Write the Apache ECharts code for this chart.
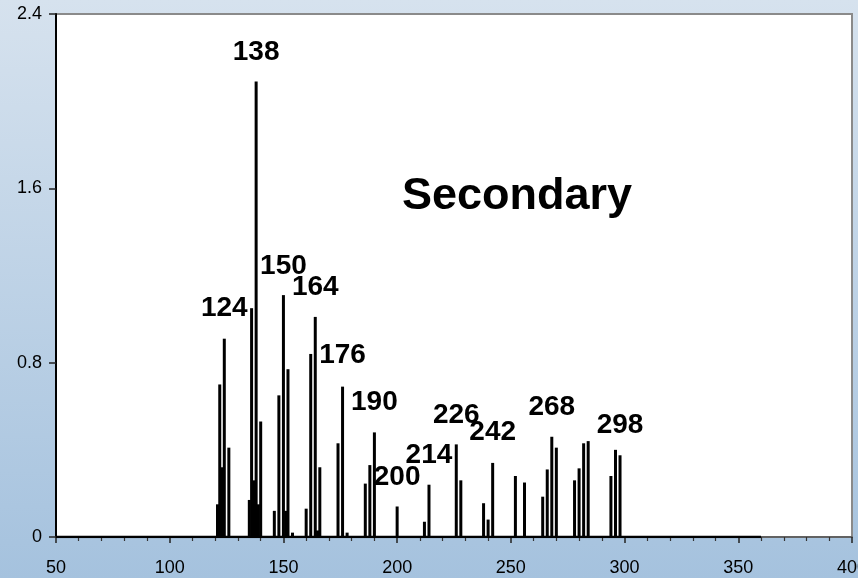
<!DOCTYPE html>
<html>
<head>
<meta charset="utf-8">
<script src="https://cdn.jsdelivr.net/npm/echarts@6/dist/echarts.min.js"></script>
<style>
  html, body { margin: 0; padding: 0; }
  #chart { width: 858px; height: 578px; }
</style>
</head>
<body>
<div id="chart"></div>
<script>
// Fragment masses (m/z) and their intensities
const masses = [121, 122, 123, 124, 126, 135, 136, 137, 138, 139, 140, 146, 148, 150, 151, 152, 154,
  160, 162, 164, 165, 166, 174, 176, 178, 186, 188, 190, 200, 212, 214, 226, 228, 238, 240, 242,
  252, 256, 264, 266, 268, 270, 278, 280, 282, 284, 294, 296, 298];
const intensities = [0.15, 0.70, 0.32, 0.91, 0.41, 0.17, 1.05, 0.26, 2.09, 0.15, 0.53, 0.12, 0.65, 1.11, 0.12, 0.77, 0.02,
  0.13, 0.84, 1.01, 0.03, 0.32, 0.43, 0.69, 0.02, 0.245, 0.33, 0.48, 0.14, 0.07, 0.24, 0.425, 0.26, 0.155, 0.08, 0.34,
  0.28, 0.25, 0.185, 0.31, 0.46, 0.41, 0.26, 0.315, 0.43, 0.44, 0.28, 0.40, 0.375];

// Scan range of the spectrum (drawn as the zero baseline)
const scanRange = [50, 360];

// Annotated peaks and the height at which each label sits
const peakLabels = [124, 138, 150, 164, 176, 190, 200, 214, 226, 242, 268, 298];
const peakLabelHeights = [1.051, 2.226, 1.244, 1.147, 0.835, 0.62, 0.275, 0.376, 0.56, 0.482, 0.597, 0.514];

// Axis ticks
const xTicks = [50, 100, 150, 200, 250, 300, 350, 400];
const yTicks = [0, 0.8, 1.6, 2.4];

const panelTitle = 'Secondary';

const chart = echarts.init(document.getElementById('chart'), null, { renderer: 'canvas' });
const FONT = 'Arial, "Liberation Sans", sans-serif';

const option = {
  animation: false,
  backgroundColor: {
    type: 'linear', x: 0, y: 0, x2: 0, y2: 1,
    colorStops: [
      { offset: 0, color: '#d6e2ee' },
      { offset: 1, color: '#a5c2de' }
    ]
  },
  grid: {
    left: 56, right: 6, top: 14, bottom: 41,
    outerBoundsMode: 'none',
    containLabel: false,
    show: true, backgroundColor: '#ffffff', borderColor: '#8a8a8a', borderWidth: 2
  },
  xAxis: {
    type: 'value',
    min: xTicks[0], max: xTicks[xTicks.length - 1], interval: xTicks[1] - xTicks[0],
    axisLine: { show: true, onZero: false, lineStyle: { color: '#555', width: 1.5 } },
    axisTick: { show: true, length: 6, lineStyle: { color: '#222', width: 1.5 } },
    minorTick: { show: true, splitNumber: 5, length: 4, lineStyle: { color: '#333', width: 1.2 } },
    splitLine: { show: false },
    axisLabel: { color: '#000', fontSize: 18, fontFamily: FONT, margin: 22, showMaxLabel: true, hideOverlap: false }
  },
  yAxis: {
    type: 'value',
    min: yTicks[0], max: yTicks[yTicks.length - 1], interval: yTicks[1] - yTicks[0],
    axisLine: { show: true, lineStyle: { color: '#000', width: 2 } },
    axisTick: { show: true, length: 7, lineStyle: { color: '#222', width: 1.5 } },
    splitLine: { show: false },
    axisLabel: {
      color: '#000', fontSize: 18, fontFamily: FONT, margin: 14,
      formatter: v => (v === 0 ? '0' : v.toFixed(1))
    }
  },
  series: [
    {
      type: 'line',
      data: scanRange.map(m => [m, 0]),
      symbol: 'none',
      lineStyle: { color: '#000', width: 2.5 },
      z: 3
    },
    {
      type: 'bar',
      data: masses.map((m, i) => [m, intensities[i]]),
      barWidth: 3,
      itemStyle: { color: '#000' },
      z: 4
    },
    {
      type: 'scatter',
      data: peakLabels.map((m, i) => [m, peakLabelHeights[i], String(m)]),
      symbolSize: 0,
      silent: true,
      itemStyle: { color: '#000', opacity: 1 },
      label: {
        show: true, position: 'inside',
        formatter: p => p.value[2],
        color: '#000', opacity: 1, textBorderWidth: 0,
        fontSize: 28, fontWeight: 'bold', fontFamily: FONT
      },
      z: 5
    }
  ],
  graphic: [
    {
      type: 'text', x: 517, y: 197, z: 10,
      style: {
        text: panelTitle, fill: '#000', fontSize: 45, fontWeight: 'bold', fontFamily: FONT,
        textAlign: 'center', textVerticalAlign: 'middle'
      }
    }
  ]
};

chart.setOption(option);
</script>
</body>
</html>
